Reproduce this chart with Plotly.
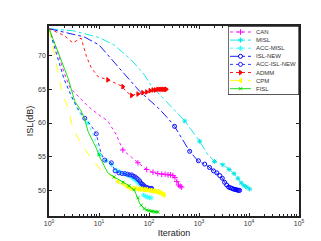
import plotly.graph_objects as go

# ---------------- data ----------------
names = ["CAN", "MISL", "ACC-MISL", "ISL-NEW", "ACC-ISL-NEW", "ADMM", "CPM", "FISL"]

can_x = [1, 1.5, 2, 2.6, 3, 4, 6, 10, 15, 22, 30, 45, 60, 82, 110, 150, 200, 300, 340, 380, 420, 450]
can_y = [74, 70.5, 67.5, 65.3, 64.8, 63.8, 62.5, 61.2, 60.3, 58.3, 56.0, 54.9, 54.1, 53.3, 52.8, 52.5, 52.4, 52.3, 51.8, 51.0, 50.6, 50.5]
can_mx = [30, 60, 90, 120, 150, 180, 210, 240, 270, 300, 330, 360, 390, 420, 450]
can_my = [56.0, 54.1, 53.1, 52.7, 52.5, 52.4, 52.4, 52.3, 52.3, 52.2, 51.9, 51.3, 50.8, 50.6, 50.5]

misl_x = [1, 3, 10, 20, 44, 80, 112, 200, 520, 1030, 1500, 2050, 3000, 3800, 5000, 7000, 9000, 10300]
misl_y = [74, 73.7, 72.7, 71.6, 69.4, 67.2, 65.5, 63.5, 60.3, 57.3, 55.3, 54.3, 53.8, 53.3, 52.5, 51.1, 50.5, 50.2]
misl_mx = [520, 1030, 2050, 3000, 4000, 5000, 6000, 7000, 8000, 9000, 10300]
misl_my = [60.3, 57.3, 54.3, 53.8, 53.1, 52.5, 51.8, 51.1, 50.7, 50.5, 50.2]

accmisl_x = [1, 2, 3, 4, 6, 8, 10.3, 13, 17, 22, 30, 44, 60, 70, 74, 80, 90, 115]
accmisl_y = [74, 66.5, 63.5, 61.5, 60.0, 58.0, 55.3, 54.5, 54.0, 53.0, 52.5, 52.0, 51.3, 50.8, 49.6, 49.2, 49.0, 48.9]
accmisl_mx = [6, 10.3, 14, 18, 22, 26, 30, 34, 38, 42, 46, 50, 54, 58, 62, 66, 70, 78, 86, 94, 102, 110]
accmisl_my = [60.0, 55.3, 54.4, 53.8, 53.0, 52.8, 52.5, 52.4, 52.2, 52.1, 51.9, 51.7, 51.5, 51.3, 51.1, 51.0, 50.8, 49.3, 49.1, 49.0, 48.9, 48.9]

islnew_x = [1, 5, 10, 24, 65, 150, 240, 325, 500, 650, 950, 1500, 2050, 2800, 3530, 4200, 5000, 6500]
islnew_y = [74, 72.8, 71.6, 68.4, 64.7, 62.3, 60.7, 59.5, 57.2, 55.8, 54.4, 53.6, 52.8, 52.0, 50.8, 50.4, 50.2, 50.0]
islnew_mx = [325, 650, 975, 1300, 1625, 1950, 2275, 2600, 2925, 3250, 3575, 3900, 4225, 4550, 4875, 5200, 5525, 5850, 6175, 6500]
islnew_my = [59.5, 55.8, 54.4, 53.9, 53.4, 52.9, 52.6, 52.2, 51.8, 51.2, 50.8, 50.5, 50.4, 50.3, 50.2, 50.15, 50.1, 50.05, 50.0, 50.0]

accisl_x = [1, 2, 3, 4, 5.2, 7, 8.8, 10, 11, 13, 17.6, 20, 22.5, 30, 44, 55, 60, 70, 82, 103, 115]
accisl_y = [74, 66.5, 63.5, 61.8, 60.7, 59.6, 58.4, 56.5, 55.5, 54.5, 54.1, 53.2, 52.7, 52.5, 52.3, 52.0, 51.6, 51.0, 50.6, 50.3, 50.3]
accisl_mx = [5.2, 8.8, 13, 17.6, 21, 25, 29, 33, 37, 41, 45, 49, 53, 57, 61, 65, 69, 73, 77, 81, 85, 89, 93, 97, 101, 105, 109, 113]
accisl_my = [60.7, 58.4, 54.5, 54.1, 52.9, 52.6, 52.5, 52.5, 52.4, 52.3, 52.3, 52.1, 52.0, 51.8, 51.6, 51.4, 51.1, 50.9, 50.8, 50.6, 50.5, 50.4, 50.4, 50.3, 50.3, 50.3, 50.3, 50.3]

admm_x = [1, 2, 3, 4.4, 5.6, 7, 9.5, 12, 15, 20, 28, 35, 44, 60, 82, 120, 160, 222]
admm_y = [74, 73.0, 71.9, 72.6, 69.9, 68.2, 66.9, 66.7, 66.4, 66.0, 65.5, 64.7, 64.1, 64.3, 64.6, 64.9, 65.0, 65.0]
admm_mx = [15, 30, 45, 60, 75, 90, 105, 120, 135, 150, 165, 180, 195, 210, 222]
admm_my = [66.4, 65.4, 64.1, 64.3, 64.5, 64.6, 64.8, 64.9, 64.9, 65.0, 65.0, 65.0, 65.0, 65.0, 65.0]

cpm_x = [1, 1.3, 1.76, 2.4, 3.0, 4.4, 7, 11, 15, 20, 30, 44, 95, 150, 205]
cpm_y = [74, 70.1, 65.0, 62.2, 59.3, 56.9, 54.8, 53.0, 52.5, 51.8, 51.0, 50.3, 50.1, 49.8, 49.3]
cpm_mx = [24, 30, 36, 42, 48, 54, 60, 66, 72, 78, 84, 90, 100, 110, 120, 130, 140, 150, 160, 170, 180, 190, 200]
cpm_my = [51.3, 51.0, 50.6, 50.3, 50.3, 50.3, 50.2, 50.2, 50.2, 50.1, 50.1, 50.1, 50.0, 50.0, 49.9, 49.9, 49.8, 49.8, 49.7, 49.6, 49.5, 49.4, 49.3]

fisl_x = [1, 1.5, 2.4, 3.0, 3.3, 4.4, 5.2, 6, 7.6, 8.8, 10.3, 12, 15, 20, 30, 38, 52, 65, 75, 88, 110, 150]
fisl_y = [74, 70.7, 66.7, 64.2, 63.2, 61.8, 60.5, 58.8, 57.3, 56.3, 55.0, 54.0, 52.6, 52.0, 51.2, 50.8, 49.9, 48.1, 47.5, 47.1, 46.9, 46.8]
fisl_mx = [10, 20, 30, 40, 50, 60, 70, 80, 90, 100, 110, 120, 130, 140, 150]
fisl_my = [55.3, 52.0, 51.2, 50.7, 50.1, 48.9, 47.8, 47.3, 47.1, 47.0, 46.9, 46.9, 46.8, 46.8, 46.8]

x_tickvals = [1, 10, 100, 1000, 10000, 100000]
x_ticktext = ["10<sup>0</sup>", "10<sup>1</sup>", "10<sup>2</sup>", "10<sup>3</sup>", "10<sup>4</sup>", "10<sup>5</sup>"]
x_minorvals = [m * 10 ** d for d in range(5) for m in range(2, 10)]
y_tickvals = [50, 55, 60, 65, 70]

# ---------------- styles ----------------
series = [
    (can_x, can_y, can_mx, can_my, "#FF00FF", "dot", "cross-thin-open", 4),
    (misl_x, misl_y, misl_mx, misl_my, "#00E5E5", "dashdot", "asterisk-open", 4),
    (accmisl_x, accmisl_y, accmisl_mx, accmisl_my, "#33FFFF", "dot", "asterisk-open", 4),
    (islnew_x, islnew_y, islnew_mx, islnew_my, "#0000FF", "dashdot", "circle-open", 4),
    (accisl_x, accisl_y, accisl_mx, accisl_my, "#2222FF", "dot", "circle-open", 4),
    (admm_x, admm_y, admm_mx, admm_my, "#FF0000", "dot", "triangle-right", 4),
    (cpm_x, cpm_y, cpm_mx, cpm_my, "#FFFF00", "dash", "triangle-left", 4),
    (fisl_x, fisl_y, fisl_mx, fisl_my, "#00DD00", "solid", "x-thin-open", 3),
]

fig = go.Figure()
for (lx, ly, mx, my, col, dash, sym, ms) in series:
    fig.add_trace(go.Scatter(x=lx, y=ly, mode="lines",
                             line=dict(color=col, width=0.9, dash=dash),
                             showlegend=False, hoverinfo="skip"))
    fig.add_trace(go.Scatter(x=mx, y=my, mode="markers",
                             marker=dict(symbol=sym, size=ms, color=col,
                                         line=dict(color=col, width=1)),
                             showlegend=False, hoverinfo="skip"))

# ---------------- custom compact legend (own axes) ----------------
row_y = [6 + 8.1 * i for i in range(len(names))]
for i, (name, s) in enumerate(zip(names, series)):
    col, dash, sym, ms = s[4], s[5], s[6], s[7]
    fig.add_trace(go.Scatter(x=[2, 23], y=[row_y[i], row_y[i]], mode="lines",
                             line=dict(color=col, width=0.9, dash=dash),
                             xaxis="x2", yaxis="y2", showlegend=False, hoverinfo="skip"))
    fig.add_trace(go.Scatter(x=[12.5], y=[row_y[i]], mode="markers",
                             marker=dict(symbol=sym, size=ms, color=col,
                                         line=dict(color=col, width=1)),
                             xaxis="x2", yaxis="y2", showlegend=False, hoverinfo="skip"))
    fig.add_annotation(x=26, y=row_y[i], xref="x2", yref="y2", text=name,
                       showarrow=False, xanchor="left", yanchor="middle",
                       font=dict(size=6, color="#333333", family="Liberation Sans"))

W, H = 321, 241
ml, mr, mt, mb = 41, 30, 18, 33
tick_font = dict(size=7, color="#333333", family="Liberation Sans")

fig.update_layout(
    width=W, height=H,
    margin=dict(l=ml, r=mr, t=mt, b=mb, pad=0),
    paper_bgcolor="white", plot_bgcolor="white",
    showlegend=False,
    xaxis=dict(type="log", range=[0, 5], tickvals=x_tickvals, ticktext=x_ticktext,
               ticks="inside", ticklen=3, tickcolor="#222222", showline=True,
               linecolor="#222222", linewidth=1.5, mirror="ticks", showgrid=False,
               zeroline=False, tickfont=tick_font,
               minor=dict(ticks="inside", ticklen=2, tickcolor="#222222", showgrid=False,
                          tickvals=x_minorvals),
               title=dict(text="Iteration", font=dict(size=9, color="#222222", family="Liberation Sans"),
                          standoff=4)),
    yaxis=dict(range=[46.2, 74.4], tickvals=y_tickvals,
               ticks="inside", ticklen=3, tickcolor="#222222", showline=True,
               linecolor="#222222", linewidth=1.5, mirror="ticks", showgrid=False,
               zeroline=False, tickfont=tick_font,
               title=dict(text="ISL(dB)", font=dict(size=9, color="#222222", family="Liberation Sans"),
                          standoff=3)),
    xaxis2=dict(domain=[(220 - ml) / 250, 1.0], range=[0, 71], visible=False,
                anchor="y2", fixedrange=True),
    yaxis2=dict(domain=[(208 - 87) / 190, 1.0], range=[69, 0], visible=False,
                anchor="x2", fixedrange=True),
)
fig.add_shape(type="rect", xref="x2", yref="y2", x0=0, x1=71, y0=0, y1=69,
              line=dict(color="#222222", width=1.3), fillcolor="rgba(255,255,255,0)", layer="above")
fig.add_shape(type="rect", xref="x2", yref="y2", x0=0, x1=71, y0=0, y1=69,
              line=dict(width=0), fillcolor="white", layer="below")

fig.write_html("out.html")
